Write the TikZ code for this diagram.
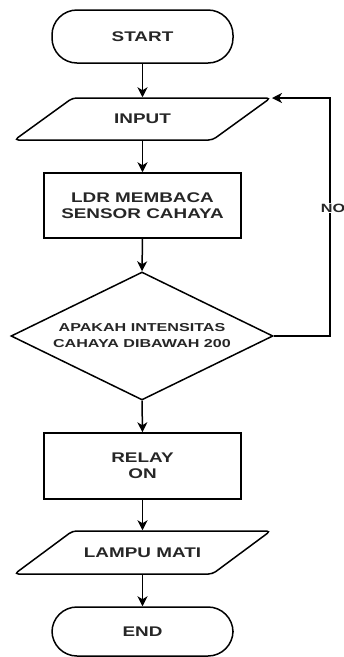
\documentclass[tikz,border=0pt]{standalone}
\usepackage{fontspec}
\newfontfamily\flowfont[FakeStretch=1.35]{Liberation Sans}
\newfontfamily\diafont[FakeStretch=1.4]{Liberation Sans}
\usetikzlibrary{shapes.geometric,arrows.meta}
\tikzset{
  txt/.style={font=\flowfont\bfseries\fontsize{14}{16}\selectfont, align=center, text=black!85},
  term/.style={draw, txt, rectangle, rounded corners=25pt, minimum width=181pt, inner sep=0pt},
  procbox/.style={draw, txt, rectangle, minimum width=197pt, inner sep=0pt},
  iobox/.style={txt, rectangle, minimum width=140pt, minimum height=42pt, inner sep=0pt},
  decbox/.style={draw, diamond, minimum width=262pt, minimum height=128pt, inner sep=0pt},
  dectext/.style={font=\diafont\bfseries\fontsize{11.5}{16}\selectfont, align=center, text=black!85},
  nolabel/.style={font=\flowfont\bfseries\fontsize{12}{14}\selectfont, fill=white, inner sep=1pt, text=black!85},
  flow/.style={-{Stealth[length=10pt,width=10pt,inset=3pt]}}
}
\begin{document}
\begin{tikzpicture}[x=1pt,y=-1pt,line width=1.5pt]
\useasboundingbox (0,0) rectangle (344,657);
\clip (0,0) rectangle (344,657);
\node[term, minimum height=53pt] (start) at (142.5,36.5) {START};
\node[iobox] (in) at (142.5,119) {INPUT};
\draw[rounded corners=4pt] (72.5,98) -- (270.5,98) -- (212.5,140) -- (14.5,140) -- cycle;
\node[procbox, minimum height=65pt] (ldr) at (142.5,205.5) {LDR MEMBACA\\SENSOR CAHAYA};
\node[decbox] (dec) at (142,336) {};
\node[dectext] (dect) at (142,336) {APAKAH INTENSITAS\\CAHAYA DIBAWAH 200};
\node[procbox, minimum height=66pt] (relay) at (142.5,466) {RELAY\\ON};
\node[iobox, minimum height=43pt] (lampu) at (142.5,552.5) {LAMPU MATI};
\draw[rounded corners=4pt] (72.5,531) -- (270.5,531) -- (212.5,574) -- (14.5,574) -- cycle;
\node[term, minimum height=49pt] (end) at (142.5,631.5) {END};
\coordinate (inR) at (272,98);
\coordinate (loopc) at (330,336);

\draw[flow] (start.south) -- (in.north);
\draw[flow] (in.south) -- (ldr.north);
\draw[flow] (ldr.south) -- (dec.north);
\draw[flow] (dec.south) -- (relay.north);
\draw[flow] (relay.south) -- (lampu.north);
\draw[flow] (lampu.south) -- (end.north);
\draw[flow] (dec.east) -- (loopc) |- (inR);
\node[nolabel] (no) at (333,208) {NO};
\end{tikzpicture}
\end{document}
